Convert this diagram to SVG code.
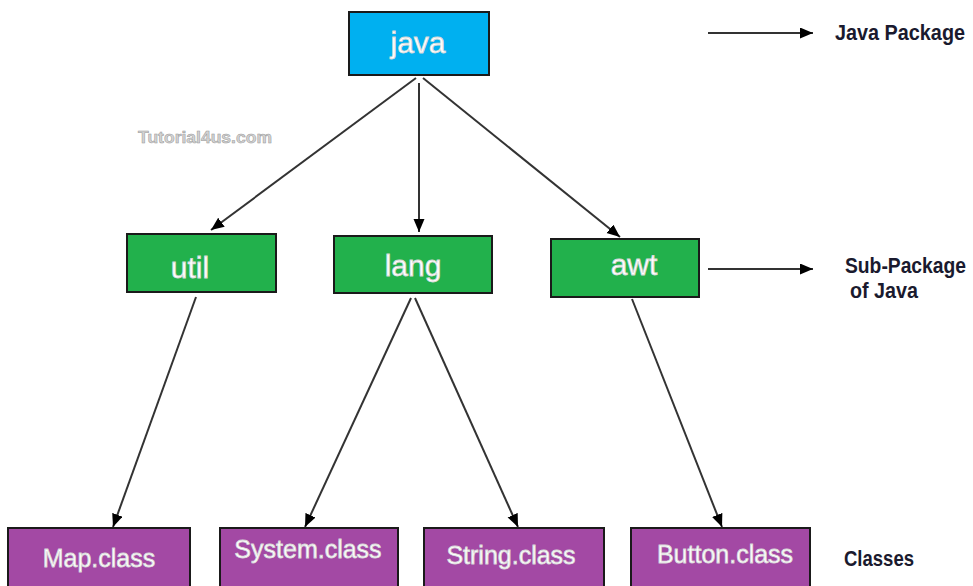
<svg xmlns="http://www.w3.org/2000/svg" width="973" height="586" viewBox="0 0 973 586">
<defs>
<marker id="ah" markerUnits="userSpaceOnUse" markerWidth="14" markerHeight="12" refX="13" refY="5.5" orient="auto">
<path d="M0,0 L13,5.5 L0,11 z" fill="#000"/>
</marker>
<style>
.box{stroke:#1a1a1a;stroke-width:2}
.blue{fill:#00b0f0}
.green{fill:#22b14c}
.purple{fill:#a349a4}
.lbl{font-family:"Liberation Sans",Arial,sans-serif;fill:#fff;stroke:#d8d8d8;stroke-width:0.8;text-anchor:middle}
.big{font-size:30px}
.cls{font-size:25px}
.legend{font-family:"Liberation Sans Narrow","Liberation Sans",Arial,sans-serif;font-weight:bold;fill:#1a1a2e;font-size:20px}
.conn line{stroke:#333;stroke-width:2;marker-end:url(#ah)}
</style>
</defs>
<rect width="973" height="586" fill="#fff"/>
<text x="138" y="143" font-family="Liberation Sans,Arial,sans-serif" font-weight="bold" font-size="16" fill="#d4d4d4" stroke="#9a9a9a" stroke-width="0.5" textLength="134" lengthAdjust="spacingAndGlyphs">Tutorial4us.com</text>
<g id="java"><rect class="box blue" x="349" y="12" width="140" height="63"/><text class="lbl big" x="418" y="53">java</text></g>
<g id="util"><rect class="box green" x="127" y="234" width="149" height="58"/><text class="lbl big" x="190" y="278">util</text></g>
<g id="lang"><rect class="box green" x="334" y="236" width="158" height="57"/><text class="lbl big" x="413" y="276">lang</text></g>
<g id="awt"><rect class="box green" x="551" y="239" width="148" height="58"/><text class="lbl big" x="634" y="275">awt</text></g>
<g id="map"><rect class="box purple" x="8" y="528" width="182" height="70"/><text class="lbl cls" x="99" y="567">Map.class</text></g>
<g id="system"><rect class="box purple" x="220" y="528" width="178" height="70"/><text class="lbl cls" x="308" y="558">System.class</text></g>
<g id="string"><rect class="box purple" x="424" y="528" width="180" height="70"/><text class="lbl cls" x="511" y="564">String.class</text></g>
<g id="button"><rect class="box purple" x="631" y="528" width="179" height="70"/><text class="lbl cls" x="725" y="563">Button.class</text></g>
<g id="connectors" class="conn">
<line x1="416" y1="78" x2="211" y2="230"/>
<line x1="419" y1="83" x2="419" y2="232"/>
<line x1="423" y1="78" x2="620" y2="237"/>
<line x1="196" y1="297" x2="113" y2="527"/>
<line x1="411" y1="298" x2="305" y2="527"/>
<line x1="415" y1="298" x2="518" y2="527"/>
<line x1="632" y1="299" x2="722" y2="527"/>
<line x1="708" y1="33" x2="813" y2="33"/>
<line x1="708" y1="269" x2="813" y2="269"/>
</g>
<g id="legend">
<text class="legend" transform="translate(835,40) scale(1,1.12)" textLength="130" lengthAdjust="spacingAndGlyphs">Java Package</text>
<text class="legend" transform="translate(845,273) scale(1,1.12)" textLength="121" lengthAdjust="spacingAndGlyphs">Sub-Package</text>
<text class="legend" transform="translate(850,298) scale(1,1.12)" textLength="68" lengthAdjust="spacingAndGlyphs">of Java</text>
<text class="legend" transform="translate(844,566) scale(1,1.12)" textLength="70" lengthAdjust="spacingAndGlyphs">Classes</text>
</g>
</svg>
